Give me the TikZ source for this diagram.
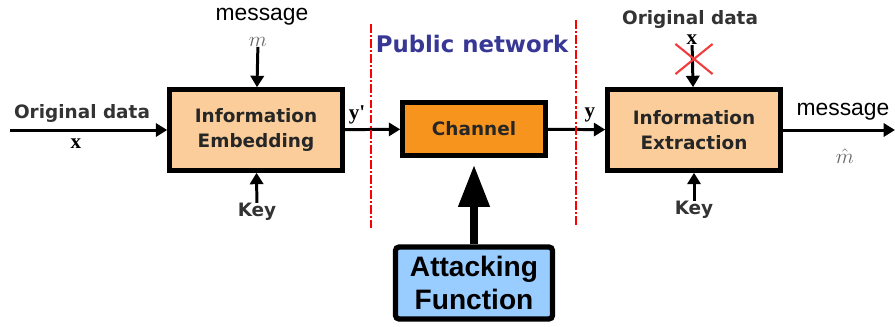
\documentclass[tikz,border=0pt]{standalone}
\usepackage{fontspec}
\setmainfont{Liberation Sans}
\newfontfamily\boxfont{DejaVu Sans}
\newfontfamily\varfont{Liberation Serif}
\usetikzlibrary{arrows.meta,shapes.misc}

\definecolor{peach}{RGB}{250,205,155}
\definecolor{chanorange}{RGB}{247,148,30}
\definecolor{attblue}{RGB}{153,204,255}
\definecolor{netblue}{RGB}{55,55,150}

\begin{document}
\begin{tikzpicture}
	[x=0.02cm,y=-0.02cm,
	block/.style={draw,line width=2.6pt,fill=peach,minimum width=3.46cm,minimum height=1.62cm,
		align=center,text=black!85,font=\boxfont\bfseries\fontsize{10.5}{14}\selectfont},
	lbl/.style={inner sep=0pt,text=black!80,font=\boxfont\bfseries\fontsize{10.5}{13}\selectfont},
	var/.style={inner sep=0pt,font=\varfont\bfseries\fontsize{12}{14}\selectfont},
	msg/.style={inner sep=0pt,font=\fontsize{13}{15}\selectfont},
	sig/.style={line width=1.7pt,-{Triangle[length=6.5pt,width=7.5pt]}},
	border/.style={red,line width=0.9pt,dash pattern=on 5pt off 1.2pt on 1.2pt off 1.2pt}]
	\useasboundingbox (0,0) rectangle (895,326);

	% blocks
	\node[block] (emb) at (256,130) {Information\\Embedding};
	\node[block,fill=chanorange,minimum width=2.86cm,minimum height=1.06cm] (chan) at (474,129) {Channel};
	\node[block] (ext) at (694,130) {Information\\Extraction};
	\node[draw,line width=3pt,rounded corners=2pt,fill=attblue,minimum width=3.14cm,minimum height=1.44cm,
		align=center,font=\bfseries\fontsize{16}{19}\selectfont] (att) at (474,283) {Attacking\\Function};

	% labels
	\node[msg] (msg1) at (262,17) {message};
	\node[inner sep=0pt,text=black!60,font=\fontsize{12}{13}\selectfont] (m1) at (258,42) {$m$};
	\node[lbl] (key1) at (257,212) {Key};
	\node[lbl] (orig1) at (82,113) {Original data};
	\node[var] (x1) at (76,144) {x};
	\coordinate (in) at (10,130);
	\node[var] (y1) at (357,115) {y'};
	\node[lbl,text=netblue,font=\boxfont\bfseries\fontsize{13}{15}\selectfont] (net) at (472,44) {Public network};
	\node[var] (y2) at (590,115) {y};
	\node[lbl] (orig2) at (690,19) {Original data};
	\node[var] (x2) at (692,40) {x};
	\node[lbl] (key2) at (694,210) {Key};
	\node[msg] (msg2) at (843,112) {message};
	\node[inner sep=0pt,text=black!60,font=\fontsize{12}{13}\selectfont] (m2) at (845,156) {$\hat{m}$};
	\coordinate (out) at (895,130);

	% connectors
	\draw[sig] (m1) -- (emb);
	\draw[sig] (key1) -- (emb);
	\draw[sig] (in) -- (emb);
	\draw[sig] (emb) -- (chan);
	\draw[sig] (chan) -- (ext);
	\draw[sig] (x2) -- (ext);
	\draw[sig] (key2) -- (ext);
	\draw[sig] (ext) -- (out);
	\draw[line width=4.5pt,-{Triangle[length=24pt,width=17pt]},shorten >=4pt] (att) -- (chan);

	\node[cross out,draw={rgb,255:red,240;green,60;blue,60},line width=1.2pt,minimum width=0.7cm,minimum height=0.56cm] (cross) at (694,59) {};

	% network borders
	\foreach \lx/\ta/\tb in {371/24/228, 576/20/225}
		\draw[border] (\lx,\ta) -- (\lx,\tb);
\end{tikzpicture}
\end{document}
